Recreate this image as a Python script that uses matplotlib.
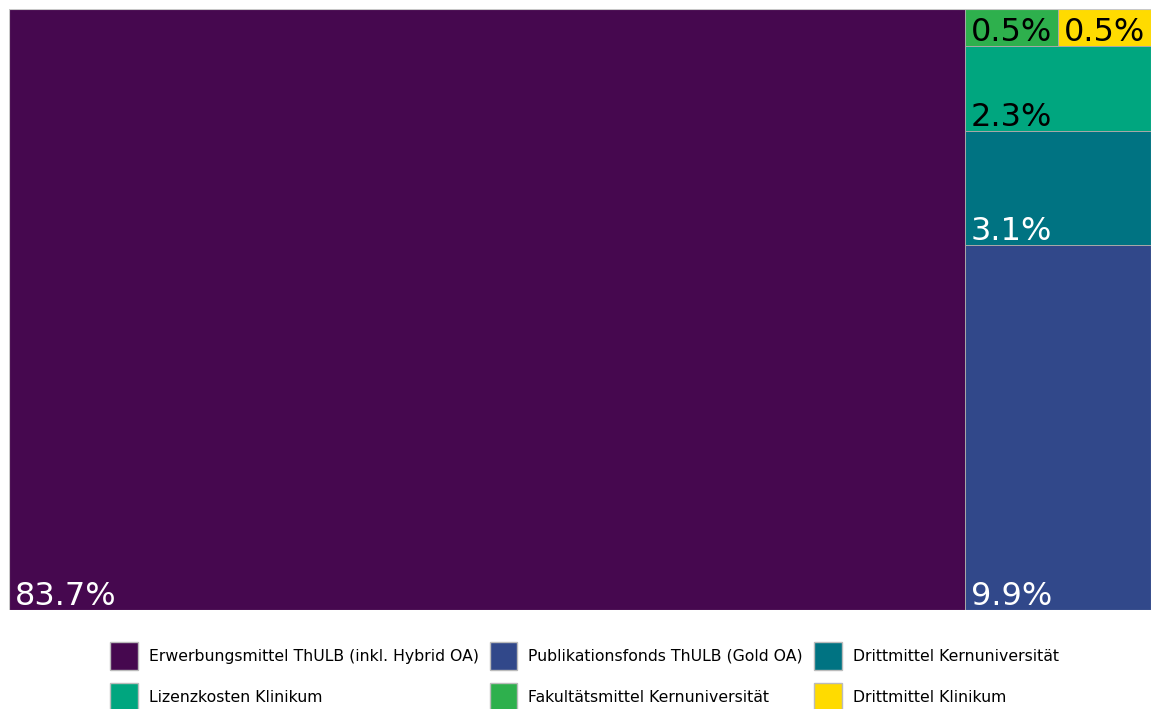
"""Treemap of OA funding sources (squarified layout, matplotlib only)."""

import matplotlib

matplotlib.use("Agg")
import matplotlib.pyplot as plt  # noqa: E402
from matplotlib.patches import Patch, Rectangle  # noqa: E402

categories = [
    "Erwerbungsmittel ThULB (inkl. Hybrid OA)",
    "Publikationsfonds ThULB (Gold OA)",
    "Drittmittel Kernuniversität",
    "Lizenzkosten Klinikum",
    "Fakultätsmittel Kernuniversität",
    "Drittmittel Klinikum",
]
shares = [83.7, 9.9, 3.1, 2.3, 0.5, 0.5]
colors = ["#46084f", "#31488a", "#007382", "#00a67f", "#2eb04d", "#ffdb00"]
text_colors = ["white", "white", "white", "black", "black", "black"]

NORM = 100.0  # layout is computed in a 100 x 100 square, then stretched


def _layout(sizes, x, y, dx, dy):
    rects = []
    if dx >= dy:
        width = sum(sizes) / dy
        for s in sizes:
            rects.append((x, y, width, s / width))
            y += s / width
    else:
        height = sum(sizes) / dx
        for s in sizes:
            rects.append((x, y, s / height, height))
            x += s / height
    return rects


def _leftover(sizes, x, y, dx, dy):
    if dx >= dy:
        width = sum(sizes) / dy
        return x + width, y, dx - width, dy
    height = sum(sizes) / dx
    return x, y + height, dx, dy - height


def _worst(sizes, x, y, dx, dy):
    return max(max(r[2] / r[3], r[3] / r[2]) for r in _layout(sizes, x, y, dx, dy))


def squarify(sizes, x, y, dx, dy):
    if not sizes:
        return []
    if len(sizes) == 1:
        return _layout(sizes, x, y, dx, dy)
    i = 1
    while i < len(sizes) and _worst(sizes[:i], x, y, dx, dy) >= _worst(sizes[:i + 1], x, y, dx, dy):
        i += 1
    cur, rest = sizes[:i], sizes[i:]
    return _layout(cur, x, y, dx, dy) + squarify(rest, *_leftover(cur, x, y, dx, dy))


W, H = 1152, 709
fig = plt.figure(figsize=(W / 100, H / 100), dpi=100)
ax = fig.add_axes([9 / W, (H - 610) / H, 1142 / W, 601 / H])
ax.set_xlim(0, NORM)
ax.set_ylim(0, NORM)
ax.axis("off")

total = sum(shares)
sizes = [v / total * NORM * NORM for v in shares]
rects = squarify(sizes, 0.0, 0.0, NORM, NORM)

for (x, y, dx, dy), val, col, tcol in zip(rects, shares, colors, text_colors):
    ax.add_patch(Rectangle((x, y), dx, dy, facecolor=col, edgecolor="#a8a8a8", lw=0.7))
    ax.annotate(f"{val:.1f}%", (x, y), xytext=(6, 5), textcoords="offset pixels",
                ha="left", va="baseline", fontsize=23, color=tcol)

ax.add_patch(Rectangle((0, 0), NORM, NORM, fill=False, edgecolor="#c8c8c8", lw=0.8))

# legend is filled column-first, so reorder to read row-wise like the original
handles = [Patch(facecolor=c, edgecolor="#bbbbbb", lw=1.0) for c in colors]
order = [0, 3, 1, 4, 2, 5]
fig.legend([handles[i] for i in order], [categories[i] for i in order],
           loc="upper center", bbox_to_anchor=(0.5072, 1 - 642 / H), ncol=3,
           frameon=False, fontsize=11.3, handlelength=1.78, handleheight=2.37,
           handletextpad=0.7, columnspacing=0.70, labelspacing=0.83, borderpad=0,
           borderaxespad=0)

fig.savefig("out.png", dpi=100)
